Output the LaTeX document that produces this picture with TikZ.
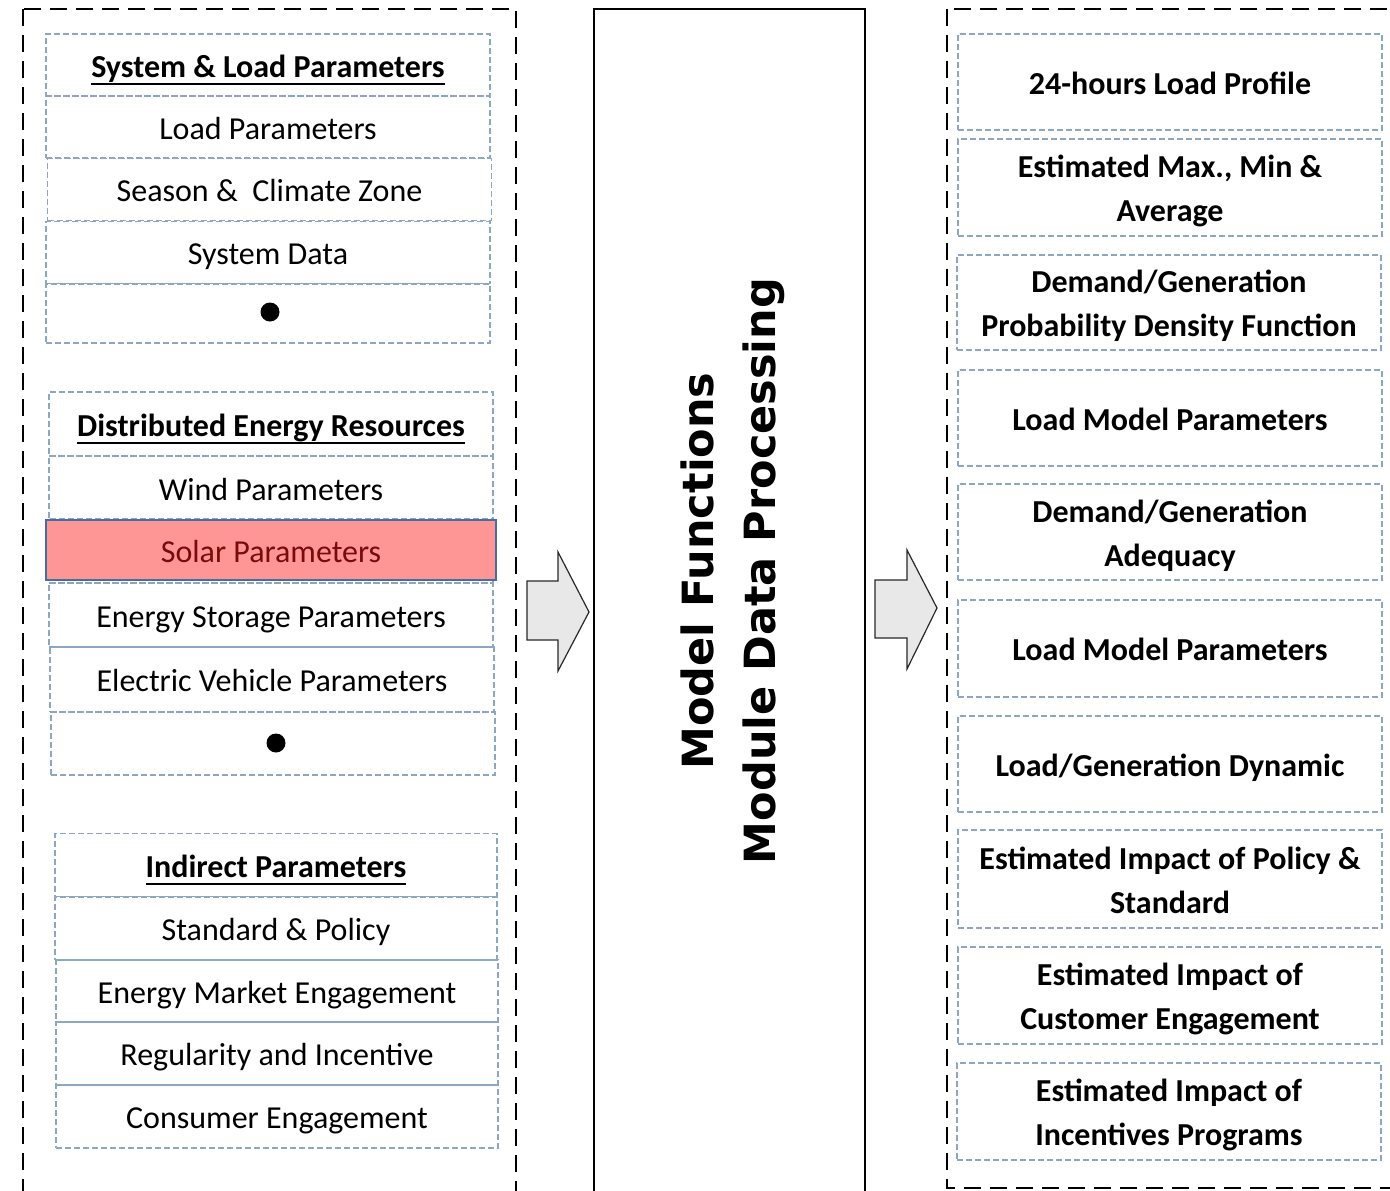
\documentclass[tikz,border=0pt]{standalone}
\usepackage{fontspec}
\setmainfont{Carlito}
\newfontfamily\blocksans{DejaVu Sans}
\definecolor{cellblue}{RGB}{140,166,196}
\definecolor{solarfill}{RGB}{255,150,150}
\definecolor{solaredge}{RGB}{68,110,165}
\definecolor{solartext}{RGB}{125,10,10}
\definecolor{arrowfill}{RGB}{232,232,232}
\definecolor{arrowedge}{RGB}{40,40,40}
% line strut: fixed height and depth for every text line
\newcommand\ls{\rule[-10pt]{0pt}{44pt}}
% bold heading with a heavy underline
\newcommand\headline[1]{\setbox0\hbox{\bfseries #1}\rlap{\rule[-8pt]{\wd0}{2.4pt}}\box0}
\begin{document}
\begin{tikzpicture}[x=1pt,y=-1pt,
  cell/.style={draw=cellblue, line width=1.1pt, dash pattern=on 6pt off 3pt,
    inner sep=0pt, font=\fontsize{32}{44}\selectfont, align=center},
  leftA/.style={cell, minimum width=444pt, minimum height=62pt},
  leftB/.style={cell, minimum width=444pt, minimum height=64pt},
  leftC/.style={cell, minimum width=442pt, minimum height=63pt},
  outcell/.style={cell, minimum width=424pt, minimum height=96pt, font=\fontsize{32}{44}\selectfont\bfseries},
  bullet/.style={circle, fill=black, inner sep=0pt, minimum size=19pt},
  frame/.style={draw=black, line width=2.6pt, dash pattern=on 17pt off 9pt},
  blockarrow/.style={draw=arrowedge, line width=1.2pt, fill=arrowfill, line join=miter}
]
\useasboundingbox (0,0) rectangle (1390,1191);
\clip (0,0) rectangle (1390,1191);

% outer frames
\draw[frame] (23,9) rectangle (516,1215);
\draw[frame] (947,9) rectangle (1405,1188);
\draw[draw=black, line width=2.6pt] (594,9) rectangle (865,1215);

% system and load parameters
\node[leftA] (slp) at (268,65) {\headline{System \& Load Parameters}\ls};
\node[leftA] (lp)  at (268,127) {Load Parameters\ls};
\node[leftA] (scz) at (269.5,189.5) {Season \&\ \ Climate Zone\ls};
\node[leftA] (sd)  at (268,252.5) {System Data\ls};
\node[leftA, minimum height=59pt] (sdots) at (268,313.5) {};
\node[bullet] (sdot) at (270,312) {};

% distributed energy resources
\node[leftB] (der) at (271,424) {\headline{Distributed Energy Resources}\ls};
\node[leftB] (wind) at (271,488) {Wind Parameters\ls};
\node[leftB] (solarcell) at (271,551) {};
\node[draw=solaredge, line width=2pt, fill=solarfill, minimum width=450pt,
      minimum height=60pt, inner sep=0pt, font=\fontsize{32}{44}\selectfont,
      text=solartext] (solar) at (271,550) {Solar Parameters\ls};
\node[leftB] (ess) at (271,615) {Energy Storage Parameters\ls};
\node[leftB, minimum height=65pt] (ev) at (272,679.5) {Electric Vehicle Parameters\ls};
\node[leftB, minimum height=63pt] (derdots) at (273,743.5) {};
\node[bullet] (derdot) at (276,743) {};

% indirect parameters
\node[leftC] (ind) at (276,865) {\headline{Indirect Parameters}\ls};
\node[leftC] (sp)  at (276,928.5) {Standard \& Policy\ls};
\node[leftC, minimum height=62pt] (eme) at (277,991) {Energy Market Engagement\ls};
\node[leftC] (ri)  at (277,1053.5) {Regularity and Incentive\ls};
\node[leftC] (ce)  at (277,1116.5) {Consumer Engagement\ls};

% block arrows
\draw[blockarrow] (527,581) -- (558,581) -- (558,552) -- (589,612) -- (558,671)
  -- (558,640) -- (527,640) -- cycle;
\draw[blockarrow] (875,580) -- (907,580) -- (907,550) -- (937,608) -- (907,669)
  -- (907,638) -- (875,638) -- cycle;

% processing module
\node[rotate=90, align=center, font=\blocksans\bfseries\fontsize{43}{62}\selectfont]
  (proc) at (733,571) {Model Functions\\Module Data Processing};

% outputs
\node[outcell, minimum height=96pt] (o1) at (1170,82) {24-hours Load Profile\ls};
\node[outcell, minimum height=97pt] (o2) at (1170,187.5) {\ls Estimated Max., Min \&\\Average\ls};
\node[outcell, minimum height=95pt] (o3) at (1169,302.5) {\ls Demand/Generation\\Probability Density Function\ls};
\node[outcell] (o4) at (1170,418) {Load Model Parameters\ls};
\node[outcell] (o5) at (1170,532) {\ls Demand/Generation\\Adequacy\ls};
\node[outcell, minimum height=97pt] (o6) at (1170,648.5) {Load Model Parameters\ls};
\node[outcell] (o7) at (1170,764) {Load/Generation Dynamic\ls};
\node[outcell, minimum height=98pt] (o8) at (1170,879) {\ls Estimated Impact of Policy \&\\Standard\ls};
\node[outcell, minimum height=97pt] (o9) at (1170,995.5) {\ls Estimated Impact of\\Customer Engagement\ls};
\node[outcell, minimum height=97pt] (o10) at (1169,1111.5) {\ls Estimated Impact of\\Incentives Programs\ls};
\end{tikzpicture}
\end{document}
